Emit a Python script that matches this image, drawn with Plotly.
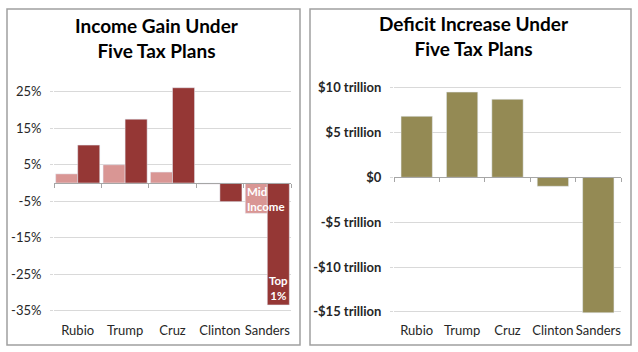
import plotly.graph_objects as go

candidates = ["Rubio", "Trump", "Cruz", "Clinton", "Sanders"]
mid_income_gain = [2.5, 5.0, 3.0, -0.3, -8.3]
top1_income_gain = [10.4, 17.5, 26.1, -5.1, -33.4]
deficit_increase = [6.8, 9.5, 8.7, -1.0, -15.1]

income_ticks = [25, 15, 5, -5, -15, -25, -35]
income_tick_labels = ["25%", "15%", "5%", "-5%", "-15%", "-25%", "-35%"]
deficit_ticks = [10, 5, 0, -5, -10, -15]
deficit_tick_labels = ["$10 trillion", "$5 trillion", "$0", "-$5 trillion",
                       "-$10 trillion", "-$15 trillion"]

W, H = 638, 352
FONT = "Lato"
MID_COLOR = "#D99694"
TOP_COLOR = "#953735"
DEF_COLOR = "#948A54"
GRID = "#D9D9D9"
AXIS = "#A6A6A6"

# plot area (pixels)
top_px, bot_px = 85, 315
dom_y = [1 - bot_px / H, 1 - top_px / H]
left_dom = [54 / W, 291 / W]
right_dom = [394 / W, 621 / W]
left_range = [-36.16, 26.85]
right_range = [-15.35, 10.29]


def zero_pos(r):
    return dom_y[0] + (0 - r[0]) / (r[1] - r[0]) * (dom_y[1] - dom_y[0])


fig = go.Figure()
fig.add_trace(go.Bar(x=candidates, y=mid_income_gain, marker_color=MID_COLOR,
                     xaxis="x", yaxis="y", name="Mid Income"))
fig.add_trace(go.Bar(x=candidates, y=top1_income_gain, marker_color=TOP_COLOR,
                     xaxis="x", yaxis="y", name="Top 1%"))
fig.add_trace(go.Bar(x=candidates, y=deficit_increase, marker_color=DEF_COLOR,
                     xaxis="x2", yaxis="y2", width=0.69, name="Deficit"))
# empty helper traces so the zero-line tick axes are drawn
fig.add_trace(go.Scatter(x=[None], y=[None], xaxis="x3", yaxis="y",
                         mode="markers", hoverinfo="skip"))
fig.add_trace(go.Scatter(x=[None], y=[None], xaxis="x4", yaxis="y2",
                         mode="markers", hoverinfo="skip"))

cat_bounds = [i - 0.5 for i in range(len(candidates) + 1)]
xtickfont = dict(size=13, color="#262626")

fig.update_layout(
    width=W, height=H, margin=dict(l=0, r=0, t=0, b=0, autoexpand=False),
    paper_bgcolor="white", plot_bgcolor="white",
    showlegend=False, barmode="group", bargap=0.07, bargroupgap=0,
    font=dict(family=FONT, color="#262626"),
    xaxis=dict(domain=left_dom, anchor="y", type="category", showgrid=False,
               ticks="", showline=False, tickangle=0, automargin=False,
               ticklabelstandoff=6, tickfont=xtickfont),
    yaxis=dict(domain=dom_y, anchor="x", range=left_range, tickvals=income_ticks,
               ticktext=income_tick_labels, showgrid=True, gridcolor=GRID,
               zeroline=True, zerolinecolor=AXIS, zerolinewidth=1, automargin=False,
               ticks="outside", ticklen=3, tickcolor=GRID, ticklabelstandoff=6,
               tickfont=dict(size=13, color="#262626")),
    xaxis2=dict(domain=right_dom, anchor="y2", type="category", showgrid=False,
                ticks="", showline=False, tickangle=0, automargin=False,
                ticklabelstandoff=6, tickfont=xtickfont),
    yaxis2=dict(domain=dom_y, anchor="x2", range=right_range, tickvals=deficit_ticks,
                ticktext=deficit_tick_labels, showgrid=True, gridcolor=GRID,
                zeroline=True, zerolinecolor=AXIS, zerolinewidth=1, automargin=False,
                ticks="outside", ticklen=3, tickcolor=GRID, ticklabelstandoff=6,
                tickfont=dict(size=13, color="#262626", weight="bold")),
    xaxis3=dict(overlaying="x", anchor="free", position=zero_pos(left_range),
                range=[-0.5, len(candidates) - 0.5], tickvals=cat_bounds,
                showticklabels=False, ticks="outside", ticklen=4, tickcolor=AXIS,
                showline=True, linecolor=AXIS, showgrid=False, zeroline=False,
                automargin=False),
    xaxis4=dict(overlaying="x2", anchor="free", position=zero_pos(right_range),
                range=[-0.5, len(candidates) - 0.5], tickvals=cat_bounds,
                showticklabels=False, ticks="outside", ticklen=4, tickcolor=AXIS,
                showline=True, linecolor=AXIS, showgrid=False, zeroline=False,
                automargin=False),
)

# panel borders
for x0, x1 in [(7, 300), (310, 631)]:
    fig.add_shape(type="rect", xref="paper", yref="paper",
                  x0=x0 / W, x1=x1 / W, y0=1 - 345 / H, y1=1 - 9 / H,
                  line=dict(color="#A0A0A0", width=1.5), fillcolor="rgba(0,0,0,0)")

# titles
fig.add_annotation(text="Income Gain Under<br>Five Tax Plans", xref="paper", yref="paper",
                   x=157 / W, y=1 - 37.5 / H, xanchor="center", yanchor="middle",
                   showarrow=False,
                   font=dict(size=19, color="#000000", family=FONT, weight="bold"))
fig.add_annotation(text="Deficit Increase Under<br>Five Tax Plans", xref="paper", yref="paper",
                   x=473.5 / W, y=1 - 36 / H, xanchor="center", yanchor="middle",
                   showarrow=False,
                   font=dict(size=19, color="#000000", family=FONT, weight="bold"))

# in-bar labels
fig.add_annotation(text="Mid<br>Income", xref="x", yref="y", x=candidates[4], y=0,
                   xanchor="left", yanchor="top", align="left", xshift=-22, yshift=0,
                   showarrow=False,
                   font=dict(size=11.5, color="white", family=FONT, weight="bold"))
fig.add_annotation(text="Top<br>1%", xref="x", yref="y", x=candidates[4],
                   y=top1_income_gain[4], xanchor="center", yanchor="bottom",
                   align="center", xshift=11, yshift=1, showarrow=False,
                   font=dict(size=11.5, color="white", family=FONT, weight="bold"))

fig.write_html("out.html")
